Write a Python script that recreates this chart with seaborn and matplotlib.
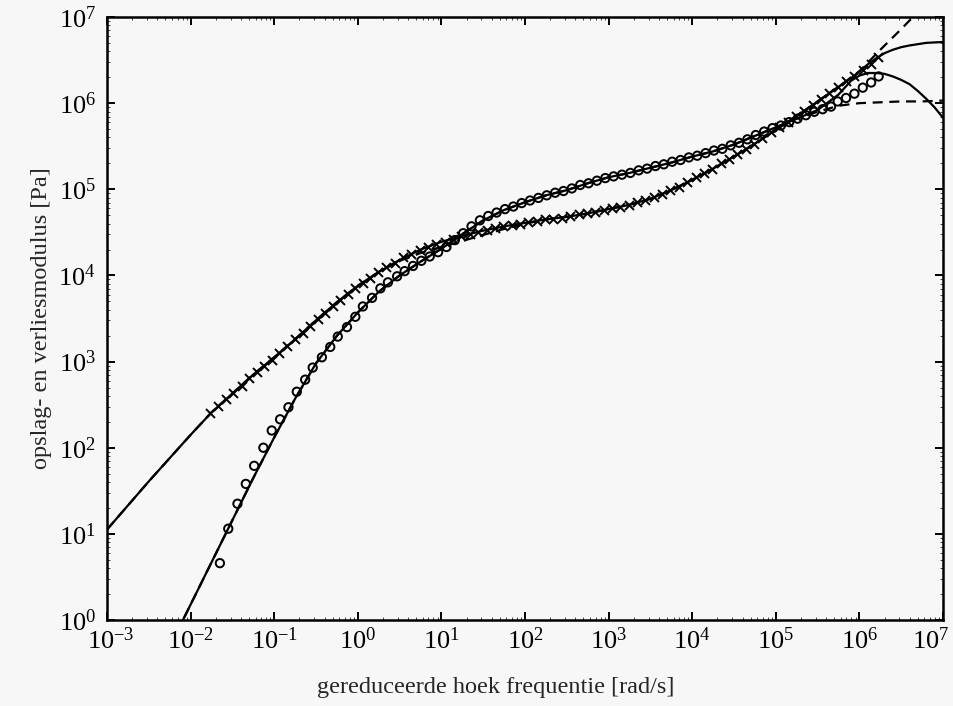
import numpy as np
import matplotlib
matplotlib.use("Agg")
import matplotlib.pyplot as plt
import seaborn as sns
from matplotlib.ticker import LogLocator, NullFormatter
from matplotlib.transforms import ScaledTranslation

# ---------------- data (log10 values) ----------------
# storage modulus measurements (open circles)
storage_logw = [-1.65, -1.55, -1.44, -1.34, -1.24, -1.13, -1.03, -0.93, -0.83, -0.73,
                -0.63, -0.54, -0.43, -0.33, -0.24, -0.13, -0.03, 0.06, 0.17, 0.27,
                0.36, 0.47, 0.56, 0.66, 0.76, 0.86, 0.96, 1.06, 1.16, 1.26,
                1.36, 1.46, 1.56, 1.66, 1.76, 1.86, 1.96, 2.06, 2.16, 2.26,
                2.36, 2.46, 2.56, 2.66, 2.76, 2.86, 2.96, 3.06, 3.16, 3.26,
                3.36, 3.46, 3.56, 3.66, 3.76, 3.86, 3.96, 4.06, 4.16, 4.26,
                4.36, 4.46, 4.56, 4.66, 4.76, 4.86, 4.96, 5.06, 5.16, 5.26,
                5.36, 5.46, 5.56, 5.66, 5.74, 5.84, 5.94, 6.04, 6.14, 6.23]
storage_logG = [0.66, 1.06, 1.35, 1.58, 1.79, 2.00, 2.20, 2.33, 2.47, 2.65,
                2.79, 2.93, 3.05, 3.17, 3.29, 3.40, 3.52, 3.64, 3.74, 3.85,
                3.92, 3.99, 4.05, 4.11, 4.17, 4.22, 4.27, 4.33, 4.41, 4.49,
                4.57, 4.64, 4.69, 4.73, 4.77, 4.80, 4.84, 4.87, 4.90, 4.93,
                4.96, 4.98, 5.01, 5.05, 5.07, 5.10, 5.13, 5.15, 5.17, 5.19,
                5.22, 5.24, 5.27, 5.29, 5.32, 5.34, 5.37, 5.39, 5.42, 5.45,
                5.47, 5.51, 5.54, 5.58, 5.63, 5.67, 5.71, 5.74, 5.78, 5.82,
                5.86, 5.90, 5.93, 5.96, 6.02, 6.06, 6.11, 6.18, 6.24, 6.31]

# loss modulus measurements (x markers)
loss_logw = [-1.77, -1.67, -1.58, -1.49, -1.39, -1.30, -1.21, -1.12, -1.03, -0.94,
             -0.85, -0.75, -0.66, -0.57, -0.48, -0.39, -0.30, -0.21, -0.12, -0.03,
             0.06, 0.15, 0.24, 0.34, 0.44, 0.54, 0.64, 0.74, 0.84, 0.94,
             1.04, 1.14, 1.24, 1.34, 1.44, 1.54, 1.64, 1.74, 1.84, 1.94,
             2.04, 2.14, 2.24, 2.34, 2.44, 2.54, 2.64, 2.74, 2.84, 2.94,
             3.04, 3.14, 3.24, 3.34, 3.44, 3.54, 3.64, 3.74, 3.84, 3.94,
             4.04, 4.14, 4.24, 4.34, 4.44, 4.54, 4.64, 4.74, 4.84, 4.94,
             5.04, 5.14, 5.24, 5.34, 5.44, 5.54, 5.64, 5.74, 5.84, 5.94,
             6.04, 6.14, 6.22]
loss_logG = [2.40, 2.49, 2.56, 2.64, 2.72, 2.81, 2.88, 2.95, 3.02, 3.10,
             3.18, 3.26, 3.33, 3.41, 3.49, 3.56, 3.64, 3.71, 3.78, 3.85,
             3.91, 3.97, 4.04, 4.10, 4.15, 4.21, 4.25, 4.29, 4.33, 4.36,
             4.39, 4.42, 4.46, 4.48, 4.51, 4.53, 4.55, 4.57, 4.59, 4.60,
             4.62, 4.63, 4.65, 4.66, 4.67, 4.69, 4.71, 4.72, 4.74, 4.76,
             4.78, 4.80, 4.82, 4.85, 4.88, 4.91, 4.95, 4.99, 5.03, 5.08,
             5.14, 5.19, 5.24, 5.30, 5.35, 5.41, 5.47, 5.53, 5.60, 5.66,
             5.72, 5.78, 5.85, 5.91, 5.98, 6.05, 6.12, 6.19, 6.26, 6.32,
             6.38, 6.46, 6.54]

# model curves
model_logw = [-3.0, -2.75, -2.5, -2.25, -2.0, -1.75, -1.5, -1.25, -1.0,
              -0.75, -0.5, -0.25, 0.0, 0.25, 0.5, 0.75, 1.0,
              1.25, 1.5, 1.75, 2.0, 2.25, 2.5, 2.75, 3.0,
              3.25, 3.5, 3.75, 4.0, 4.25, 4.5, 4.75, 5.0, 5.25, 5.5]
storage_fit_solid = [-1.80, -1.30, -0.80, -0.31, 0.18, 0.67, 1.16, 1.65, 2.12,
                     2.57, 2.98, 3.30, 3.57, 3.81, 4.00, 4.16, 4.31,
                     4.48, 4.64, 4.76, 4.85, 4.93, 4.99, 5.07, 5.14,
                     5.19, 5.25, 5.31, 5.38, 5.44, 5.52, 5.62, 5.72, 5.82, 5.92]
storage_fit_dashed = [-1.80, -1.30, -0.80, -0.31, 0.18, 0.67, 1.16, 1.65, 2.12,
                      2.57, 2.98, 3.30, 3.57, 3.81, 4.00, 4.16, 4.31,
                      4.48, 4.64, 4.76, 4.85, 4.93, 4.99, 5.07, 5.14,
                      5.19, 5.25, 5.31, 5.38, 5.44, 5.52, 5.62, 5.72, 5.82, 5.90]
loss_fit_solid = [1.05, 1.33, 1.61, 1.88, 2.15, 2.41, 2.63, 2.85, 3.05,
                  3.26, 3.48, 3.69, 3.88, 4.04, 4.18, 4.30, 4.39,
                  4.46, 4.52, 4.57, 4.61, 4.65, 4.68, 4.72, 4.77,
                  4.82, 4.89, 4.99, 5.11, 5.24, 5.38, 5.53, 5.69, 5.85, 6.02]
loss_fit_dashed = [1.05, 1.33, 1.61, 1.88, 2.15, 2.41, 2.63, 2.85, 3.05,
                   3.26, 3.48, 3.69, 3.88, 4.04, 4.17, 4.26, 4.33,
                   4.40, 4.47, 4.54, 4.60, 4.65, 4.68, 4.72, 4.77,
                   4.82, 4.89, 4.99, 5.11, 5.24, 5.38, 5.53, 5.69, 5.85, 6.02]
# high-frequency ends of the four model curves
tail_storage_solid_w = [5.75, 5.9, 6.0, 6.1, 6.2, 6.3, 6.4, 6.5, 6.6, 6.7, 6.8, 6.9, 7.0]
tail_storage_solid_G = [6.10, 6.26, 6.32, 6.35, 6.35, 6.34, 6.31, 6.27, 6.22, 6.14, 6.05, 5.95, 5.83]
tail_storage_dashed_w = [5.75, 6.0, 6.25, 6.5, 6.75, 7.0]
tail_storage_dashed_G = [5.97, 6.00, 6.01, 6.02, 6.02, 6.03]
tail_loss_solid_w = [5.75, 5.9, 6.0, 6.1, 6.2, 6.3, 6.4, 6.5, 6.6, 6.8, 7.0]
tail_loss_solid_G = [6.19, 6.29, 6.37, 6.45, 6.52, 6.58, 6.62, 6.65, 6.67, 6.70, 6.71]
tail_loss_dashed_w = [5.75, 6.0, 6.25, 6.5, 6.75, 7.0]
tail_loss_dashed_G = [6.19, 6.37, 6.62, 6.86, 7.11, 7.35]

xlabel = "gereduceerde hoek frequentie [rad/s]"
ylabel = "opslag- en verliesmodulus [Pa]"

# ---------------- styling ----------------
bg = "#f7f7f7"
sns.set_style("ticks")
plt.rcParams["font.family"] = ["Liberation Serif", "DejaVu Serif"]
plt.rcParams["mathtext.fontset"] = "custom"
plt.rcParams["mathtext.rm"] = "Liberation Serif"
plt.rcParams["mathtext.it"] = "Liberation Serif:italic"
plt.rcParams["mathtext.bf"] = "Liberation Serif:bold"

fig = plt.figure(figsize=(9.54, 7.06), dpi=100, facecolor=bg)
ax = fig.add_axes([0.1122, 0.1218, 0.8763, 0.8541])
ax.set_facecolor(bg)
ax.set_xscale("log")
ax.set_yscale("log")


def p10(v):
    return 10.0 ** np.asarray(v, dtype=float)


line_kw = dict(color="black", lw=1.6, estimator=None, sort=False, legend=False, ax=ax)
dash = (0, (4.5, 3))

sns.lineplot(x=p10(model_logw + tail_storage_solid_w),
             y=p10(storage_fit_solid + tail_storage_solid_G), **line_kw)
sns.lineplot(x=p10(model_logw + tail_loss_solid_w),
             y=p10(loss_fit_solid + tail_loss_solid_G), **line_kw)
sns.lineplot(x=p10(model_logw + tail_storage_dashed_w),
             y=p10(storage_fit_dashed + tail_storage_dashed_G),
             linestyle=dash, **line_kw)
sns.lineplot(x=p10(model_logw + tail_loss_dashed_w),
             y=p10(loss_fit_dashed + tail_loss_dashed_G),
             linestyle=dash, **line_kw)

sns.scatterplot(x=p10(storage_logw), y=p10(storage_logG), marker="o", s=36,
                facecolor="none", edgecolor="black", linewidth=1.4, ax=ax, zorder=3)
sns.scatterplot(x=p10(loss_logw), y=p10(loss_logG), marker="x", s=42,
                color="black", linewidth=1.4, ax=ax, zorder=3)

ax.set_xlim(1e-3, 1e7)
ax.set_ylim(1e0, 1e7)

ax.xaxis.set_major_locator(LogLocator(base=10, numticks=20))
ax.yaxis.set_major_locator(LogLocator(base=10, numticks=20))
ax.xaxis.set_minor_locator(LogLocator(base=10, subs=np.arange(2, 10), numticks=200))
ax.yaxis.set_minor_locator(LogLocator(base=10, subs=np.arange(2, 10), numticks=200))
ax.xaxis.set_minor_formatter(NullFormatter())
ax.yaxis.set_minor_formatter(NullFormatter())

ax.tick_params(which="major", direction="in", length=6, width=1.4,
               top=True, right=True, labelsize=19, colors="black")
ax.tick_params(axis="x", which="major", pad=5)
ax.tick_params(axis="y", which="major", pad=8)
ax.tick_params(which="minor", direction="in", length=2, width=0.6,
               top=True, right=True)
for s in ax.spines.values():
    s.set_linewidth(1.8)
    s.set_color("black")

ax.set_xlabel(xlabel, fontsize=17.5)
ax.set_ylabel(ylabel, fontsize=17.5)
ax.xaxis.set_label_coords(0.465, -0.095)
ax.yaxis.set_label_coords(-0.066, 0.50)

# keep the right-most x tick label inside the figure, as in the original
fig.canvas.draw()
for t in ax.xaxis.get_major_ticks():
    if abs(t.get_loc() - 1e7) / 1e7 < 1e-6:
        t.label1.set_transform(t.label1.get_transform()
                               + ScaledTranslation(-9 / 72, 0, fig.dpi_scale_trans))
    if abs(t.get_loc() - 1e-3) / 1e-3 < 1e-6:
        t.label1.set_transform(t.label1.get_transform()
                               + ScaledTranslation(3 / 72, 0, fig.dpi_scale_trans))

fig.savefig("out.png", dpi=100, facecolor=bg)
